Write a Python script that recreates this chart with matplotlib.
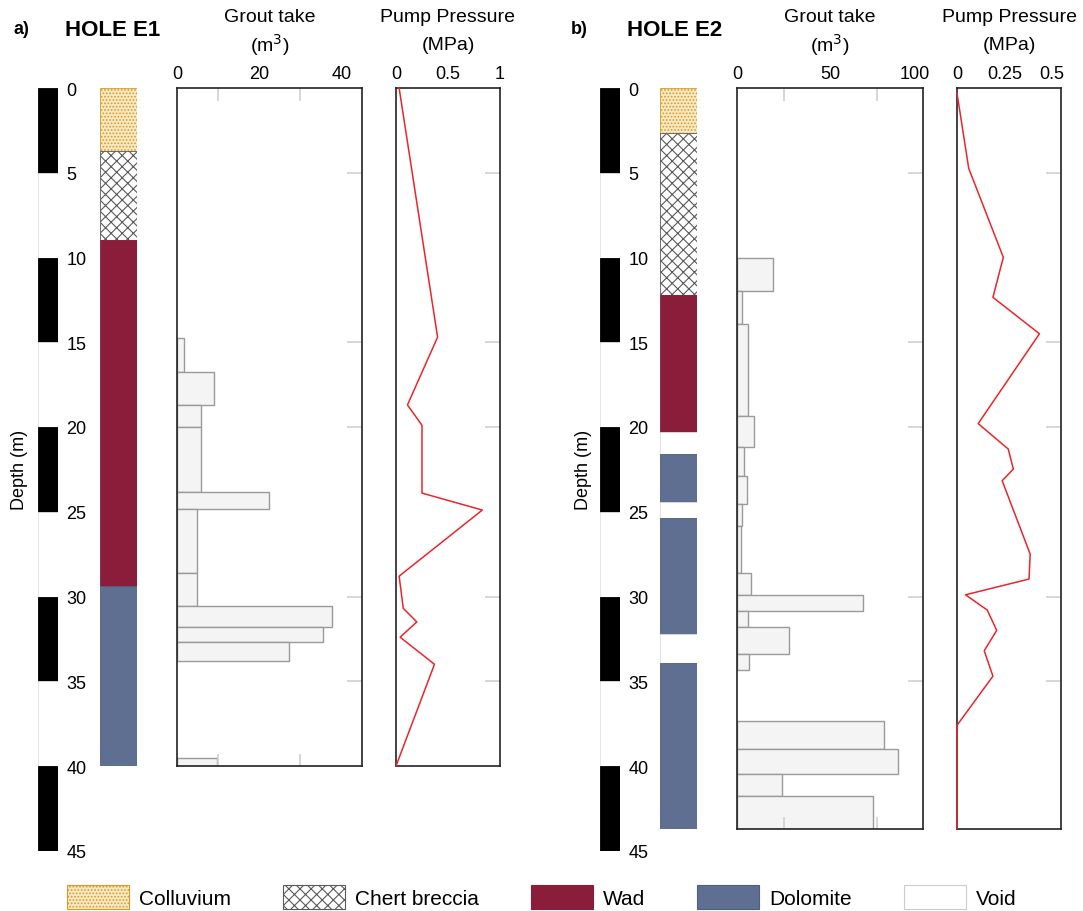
import matplotlib.pyplot as plt
from matplotlib.patches import Patch
from matplotlib.transforms import ScaledTranslation

plt.rcParams["font.family"] = ["Liberation Sans", "DejaVu Sans"]
plt.rcParams["hatch.linewidth"] = 0.8

W, H = 1083, 912          # output size in px
TOP = 89                  # px of depth 0
PX_PER_M = 16.95          # px per metre of depth

# ---- data ----
scale_ticks = [0, 5, 10, 15, 20, 25, 30, 35, 40, 45]
right_ticks = [5, 15, 20, 30, 35]

# Hole E1 lithology
e1_layer_top = [0.0, 3.7, 8.97, 29.4]
e1_layer_base = [3.7, 8.97, 29.4, 40.0]
e1_layer_type = ["Colluvium", "Chert breccia", "Wad", "Dolomite"]

# Hole E1 grout take per stage
e1_grout_top = [14.75, 16.74, 18.7, 20.0, 23.85, 24.84, 28.63, 30.57, 31.81, 32.7, 39.5]
e1_grout_base = [16.74, 18.7, 20.0, 23.85, 24.84, 28.63, 30.57, 31.81, 32.7, 33.8, 40.0]
e1_grout_take = [1.7, 9.0, 5.9, 5.9, 22.4, 4.95, 4.95, 37.6, 35.5, 27.3, 9.8]
e1_grout_ticks = [0, 20, 40]
e1_grout_labels = ["0", "20", "40"]

# Hole E1 pump pressure
e1_press_depth = [0.0, 14.7, 18.7, 19.9, 23.9, 24.9, 28.8, 30.7, 31.5, 32.4, 34.0, 40.0]
e1_press_mpa = [0.03, 0.40, 0.11, 0.25, 0.25, 0.83, 0.03, 0.07, 0.20, 0.04, 0.37, 0.0]
e1_press_ticks = [0, 0.5, 1]
e1_press_labels = ["0", "0.5", "1"]

# Hole E2 lithology
e2_layer_top = [0.0, 2.63, 12.2, 20.3, 21.6, 24.45, 25.35, 32.2, 33.9]
e2_layer_base = [2.63, 12.2, 20.3, 21.6, 24.45, 25.35, 32.2, 33.9, 43.7]
e2_layer_type = ["Colluvium", "Chert breccia", "Wad", "Void", "Dolomite",
                 "Void", "Dolomite", "Void", "Dolomite"]

# Hole E2 grout take per stage
e2_grout_top = [10.0, 11.96, 13.92, 19.33, 21.2, 22.87, 24.54, 25.86, 28.6, 29.9,
                30.84, 31.78, 33.41, 37.35, 39.0, 40.5, 41.77]
e2_grout_base = [11.96, 13.92, 19.33, 21.2, 22.87, 24.54, 25.86, 28.6, 29.9, 30.84,
                 31.78, 33.41, 34.35, 39.0, 40.5, 41.77, 43.7]
e2_grout_take = [19.6, 2.7, 5.8, 9.2, 3.8, 5.4, 2.9, 2.0, 7.7, 68.0,
                 6.1, 27.9, 6.3, 79.3, 86.3, 24.1, 73.0]
e2_grout_ticks = [0, 50, 100]
e2_grout_labels = ["0", "50", "100"]

# Hole E2 pump pressure
e2_press_depth = [0.3, 4.74, 9.99, 12.35, 14.5, 19.8, 21.3, 22.48, 23.17, 27.5,
                  28.97, 29.9, 30.8, 32.0, 33.2, 34.7, 37.6, 43.7]
e2_press_mpa = [0.0, 0.062, 0.245, 0.19, 0.436, 0.112, 0.271, 0.298, 0.239, 0.387,
                0.381, 0.045, 0.16, 0.21, 0.144, 0.19, 0.0, 0.0]
e2_press_ticks = [0, 0.25, 0.5]
e2_press_labels = ["0", "0.25", "0.5"]

LITH_STYLE = {
    "Colluvium": dict(facecolor="#f9e9c2", edgecolor="#d59a2a", hatch="....."),
    "Chert breccia": dict(facecolor="white", edgecolor="#5a5a5a", hatch="xxx"),
    "Wad": dict(facecolor="#8a1e3a", edgecolor="#8a1e3a"),
    "Dolomite": dict(facecolor="#5e6f91", edgecolor="#4e5f80"),
    "Void": dict(facecolor="white", edgecolor="#dddddd"),
}

RED = "#e8262c"
BAR_FILL = "#f4f4f4"
BAR_EDGE = "#9a9a9a"
TICK_GREY = "#d0d0d0"


def depth_axes(fig, x0, x1, dmax):
    h = dmax * PX_PER_M
    ax = fig.add_axes([x0 / W, 1 - (TOP + h) / H, (x1 - x0) / W, h / H])
    ax.set_ylim(dmax, 0)
    return ax


def scale_bar(fig, x0, x1, label_x):
    ax = depth_axes(fig, x0, x1, 45)
    for i, d in enumerate(scale_ticks[:-1]):
        ax.bar(0.5, 5, bottom=d, width=1,
               color="black" if i % 2 == 0 else "white",
               edgecolor="black" if i % 2 == 0 else "#e0e0e0", lw=0.6)
    ax.set_xlim(0, 1)
    ax.set_xticks([])
    ax.yaxis.tick_right()
    ax.set_yticks(scale_ticks)
    ax.tick_params(axis="y", length=0, pad=6, labelsize=13)
    for s in ax.spines.values():
        s.set_visible(False)
    fig.text(label_x / W, 1 - 470 / H, "Depth (m)", rotation=90,
             ha="center", va="center", fontsize=13)


def litho_column(fig, x0, x1, tops, bases, types):
    ax = depth_axes(fig, x0, x1, bases[-1])
    for t, b, kind in zip(tops, bases, types):
        ax.bar(0.5, b - t, bottom=t, width=1, lw=0.6, **LITH_STYLE[kind])
    ax.set_xlim(0, 1)
    ax.axis("off")


def style_data_axes(ax, ticks, labels, minor, xlim):
    ax.set_xlim(*xlim)
    ax.xaxis.tick_top()
    ax.set_xticks(ticks)
    ax.set_xticklabels(labels)
    ax.set_xticks(minor, minor=True)
    ax.tick_params(axis="x", which="major", length=0, pad=4, labelsize=13)
    ax.tick_params(axis="x", which="minor", direction="in", length=9,
                   color=TICK_GREY, width=1.2, top=True, bottom=True)
    ax.yaxis.tick_right()
    ax.set_yticks(right_ticks)
    ax.tick_params(axis="y", direction="in", length=11, color=TICK_GREY,
                   width=1.2, labelright=False, left=False)
    for s in ax.spines.values():
        s.set_linewidth(1.2)
        s.set_color("#222222")


def grout_axes(fig, x0, x1, dmax, tops, bases, takes, ticks, labels, minor, xlim):
    ax = depth_axes(fig, x0, x1, dmax)
    heights = [b - t for t, b in zip(tops, bases)]
    ax.barh(tops, takes, height=heights, align="edge", left=0,
            color=BAR_FILL, edgecolor=BAR_EDGE, lw=1)
    style_data_axes(ax, ticks, labels, minor, xlim)
    return ax


def pressure_axes(fig, x0, x1, dmax, depths, mpa, ticks, labels, minor, xlim):
    ax = depth_axes(fig, x0, x1, dmax)
    ax.plot(mpa, depths, color=RED, lw=1.1, clip_on=False, zorder=5)
    style_data_axes(ax, ticks, labels, minor, xlim)
    return ax


def headers(fig, panel, hole, px_panel, px_hole, grout_c, press_c):
    fig.text(px_panel / W, 1 - 30 / H, panel, fontsize=13, fontweight="bold",
             ha="center", va="center")
    fig.text(px_hole / W, 1 - 30 / H, hole, fontsize=16, fontweight="bold",
             ha="left", va="center")
    fig.text(grout_c / W, 1 - 18 / H, "Grout take", fontsize=14,
             ha="center", va="center")
    fig.text(grout_c / W, 1 - 45 / H, "(m$^3$)", fontsize=14,
             ha="center", va="center")
    fig.text(press_c / W, 1 - 18 / H, "Pump Pressure", fontsize=14,
             ha="center", va="center")
    fig.text(press_c / W, 1 - 45 / H, "(MPa)", fontsize=14,
             ha="center", va="center")


fig = plt.figure(figsize=(W / 100, H / 100), dpi=100)

# ---- a) hole E1 ----
scale_bar(fig, 38, 58, 20)
litho_column(fig, 100, 137, e1_layer_top, e1_layer_base, e1_layer_type)
grout_axes(fig, 177, 362, 40, e1_grout_top, e1_grout_base, e1_grout_take,
           e1_grout_ticks, e1_grout_labels, [10, 20, 30], (0, 45))
pressure_axes(fig, 396, 500, 40, e1_press_depth, e1_press_mpa,
              e1_press_ticks, e1_press_labels, [0.5], (0, 1))
headers(fig, "a)", "HOLE E1", 21, 65, 270, 448)

# ---- b) hole E2 ----
scale_bar(fig, 600, 620, 583)
litho_column(fig, 660, 697, e2_layer_top, e2_layer_base, e2_layer_type)
ax_g2 = grout_axes(fig, 737, 923, 43.7, e2_grout_top, e2_grout_base, e2_grout_take,
                   e2_grout_ticks, e2_grout_labels, [25, 50, 75], (0, 100))
# the "100" label sits a little left of the box corner in the original
lab = ax_g2.get_xticklabels()[-1]
lab.set_transform(lab.get_transform() + ScaledTranslation(-8 / 100, 0, fig.dpi_scale_trans))
pressure_axes(fig, 957, 1061, 43.7, e2_press_depth, e2_press_mpa,
              e2_press_ticks, e2_press_labels, [0.25], (0, 0.55))
headers(fig, "b)", "HOLE E2", 579, 627, 830, 1009)

# ---- legend ----
legend_names = ["Colluvium", "Chert breccia", "Wad", "Dolomite", "Void"]
handles = []
for name in legend_names:
    st = dict(LITH_STYLE[name])
    if name == "Void":
        st["edgecolor"] = "#cccccc"
    handles.append(Patch(label=name, lw=0.8, **st))
fig.legend(handles=handles, loc="center", bbox_to_anchor=(0.5, 1 - 898 / H),
           ncol=5, frameon=False, fontsize=15, handlelength=3.0,
           handleheight=1.35, handletextpad=0.45, columnspacing=2.5)

fig.savefig("out.png", dpi=100)
